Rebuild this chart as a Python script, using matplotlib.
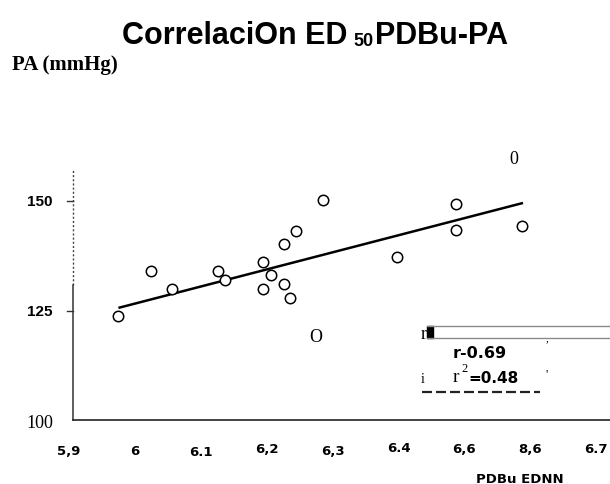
import matplotlib
matplotlib.use("Agg")
import matplotlib.pyplot as plt
from matplotlib.lines import Line2D
from matplotlib.patches import Rectangle
import matplotlib.transforms as mtransforms

# data
ed50 = [5.975, 6.024, 6.056, 6.126, 6.137, 6.195, 6.195, 6.207, 6.226,
        6.226, 6.236, 6.245, 6.286, 6.397, 6.487, 6.487, 6.588]
pa = [123.9, 134.0, 130.0, 134.1, 132.0, 136.0, 130.0, 133.2, 140.2,
      131.1, 127.9, 143.1, 150.2, 137.2, 149.3, 143.3, 144.3]
fit_x = [5.975, 6.589]
fit_y = [125.7, 149.5]
stray_x = [6.274, 6.575]
stray_y = [119.1, 159.5]
stray_txt = ["O", "0"]
xtick_vals = [5.9, 6.0, 6.1, 6.2, 6.3, 6.4, 6.5, 6.6, 6.7]
xtick_txt = ["5,9", "6", "6.1", "6,2", "6,3", "6.4", "6,6", "8,6", "6.7"]
ytick_vals = [150, 125]
ytick_txt = ["150", "125"]

W, H = 610, 485
fig = plt.figure(figsize=(W / 100, H / 100), dpi=100)


def fx(x):
    return x / W


def fy(y):
    return 1 - y / H


ax = fig.add_axes([fx(72.7), fy(420.7), (W - 72.7) / W, (420.7 - 170) / H])
ax.set_xlim(5.9056, 6.721)
ax.set_ylim(100.34, 157.2)
ax.patch.set_alpha(0)
for s in ["top", "right", "left"]:
    ax.spines[s].set_visible(False)
ax.spines["bottom"].set_color("#222222")
ax.spines["bottom"].set_linewidth(1.2)
ax.set_xticks([])
ax.set_yticks([])

# left axis: dotted upper part, solid lower part
ytr = ax.get_yaxis_transform()
ax.plot([0, 0], [131.0, 157.2], color="#444444", lw=1, ls=(0, (1.5, 1.5)),
        transform=ytr, clip_on=False)
ax.plot([0, 0], [100.34, 131.0], color="#333333", lw=1.1,
        transform=ytr, clip_on=False)

# y ticks and labels
for v, t in zip(ytick_vals, ytick_txt):
    ax.plot([-0.011, 0], [v, v], color="#333333", lw=1, transform=ytr, clip_on=False)
    ax.text(-0.061, v, t, transform=ytr, ha="center", va="center",
            fontsize=11, fontweight="heavy", family="Liberation Sans")
fig.text(fx(39.5), fy(423.5), "100", ha="center", va="center",
         fontsize=13, family="Liberation Serif")

# x tick labels, a little uneven like the scan
xtr = ax.get_xaxis_transform()
label_dy = [-1, -1, -1.5, 1.5, -1, 2, 1.5, 1.5, 1.5]
label_y = -(451 - 420.7) / (420.7 - 170)
for v, t, dy in zip(xtick_vals, xtick_txt, label_dy):
    off = mtransforms.offset_copy(xtr, fig=fig, x=0, y=dy * 0.72, units="points")
    ax.text(v, label_y, t, transform=off, ha="center", va="center", fontsize=9.5,
            fontweight="bold", family="DejaVu Sans", clip_on=False)

# regression line and points
ax.plot(fit_x, fit_y, color="black", lw=1.8, solid_capstyle="butt")
ax.plot(ed50, pa, ls="none", marker="o", ms=7.5, mfc="white", mec="black", mew=1.1)
for x, y, t in zip(stray_x, stray_y, stray_txt):
    ax.text(x, y, t, ha="center", va="center", fontsize=13,
            family="Liberation Serif", clip_on=False)

# titles
fig.text(fx(122), fy(43.6), "CorrelaciOn ED", ha="left", va="baseline",
         fontsize=22, fontweight="bold", family="Liberation Sans")
fig.text(fx(353), fy(46), "50", ha="left", va="baseline",
         fontsize=13, fontweight="bold", family="Liberation Sans")
fig.text(fx(375), fy(43.6), "PDBu-PA", ha="left", va="baseline",
         fontsize=22, fontweight="bold", family="Liberation Sans")
fig.text(fx(11.7), fy(70), "PA (mmHg)", ha="left", va="baseline",
         fontsize=15, fontweight="bold", family="Liberation Serif")
fig.text(fx(520), fy(483), "PDBu EDNN", ha="center", va="baseline",
         fontsize=9.5, fontweight="bold", family="DejaVu Sans")

# what is left of the stats box
for yy in (326.7, 339):
    fig.add_artist(Line2D([fx(427), fx(610)], [fy(yy), fy(yy)], color="#8a8a8a", lw=1))
fig.add_artist(Rectangle((fx(427), fy(339)), 6 / W, 12 / H, color="black",
                         transform=fig.transFigure))
fig.text(fx(420.5), fy(339), "r", ha="left", va="baseline", fontsize=13,
         family="Liberation Serif")
fig.text(fx(547), fy(341), ",", ha="center", va="baseline", fontsize=8,
         family="Liberation Serif")
fig.text(fx(453), fy(358), "r-0.69", ha="left", va="baseline", fontsize=11.5,
         fontweight="bold", family="DejaVu Sans")
fig.text(fx(452.5), fy(382), "r", ha="left", va="baseline", fontsize=14,
         family="Liberation Serif")
fig.text(fx(461), fy(372), "2", ha="left", va="baseline", fontsize=9,
         family="Liberation Serif")
fig.text(fx(468), fy(383), "=0.48", ha="left", va="baseline", fontsize=11,
         fontweight="bold", family="DejaVu Sans")
fig.text(fx(421), fy(383), "i", ha="left", va="baseline", fontsize=10,
         family="Liberation Serif")
fig.text(fx(547), fy(378), "'", ha="center", va="baseline", fontsize=9,
         family="Liberation Serif")
fig.add_artist(Line2D([fx(422), fx(540)], [fy(392.5), fy(392.5)], color="#222222",
                      lw=1.6, ls=(0, (4.5, 1.8))))

fig.savefig("out.png", dpi=100)
